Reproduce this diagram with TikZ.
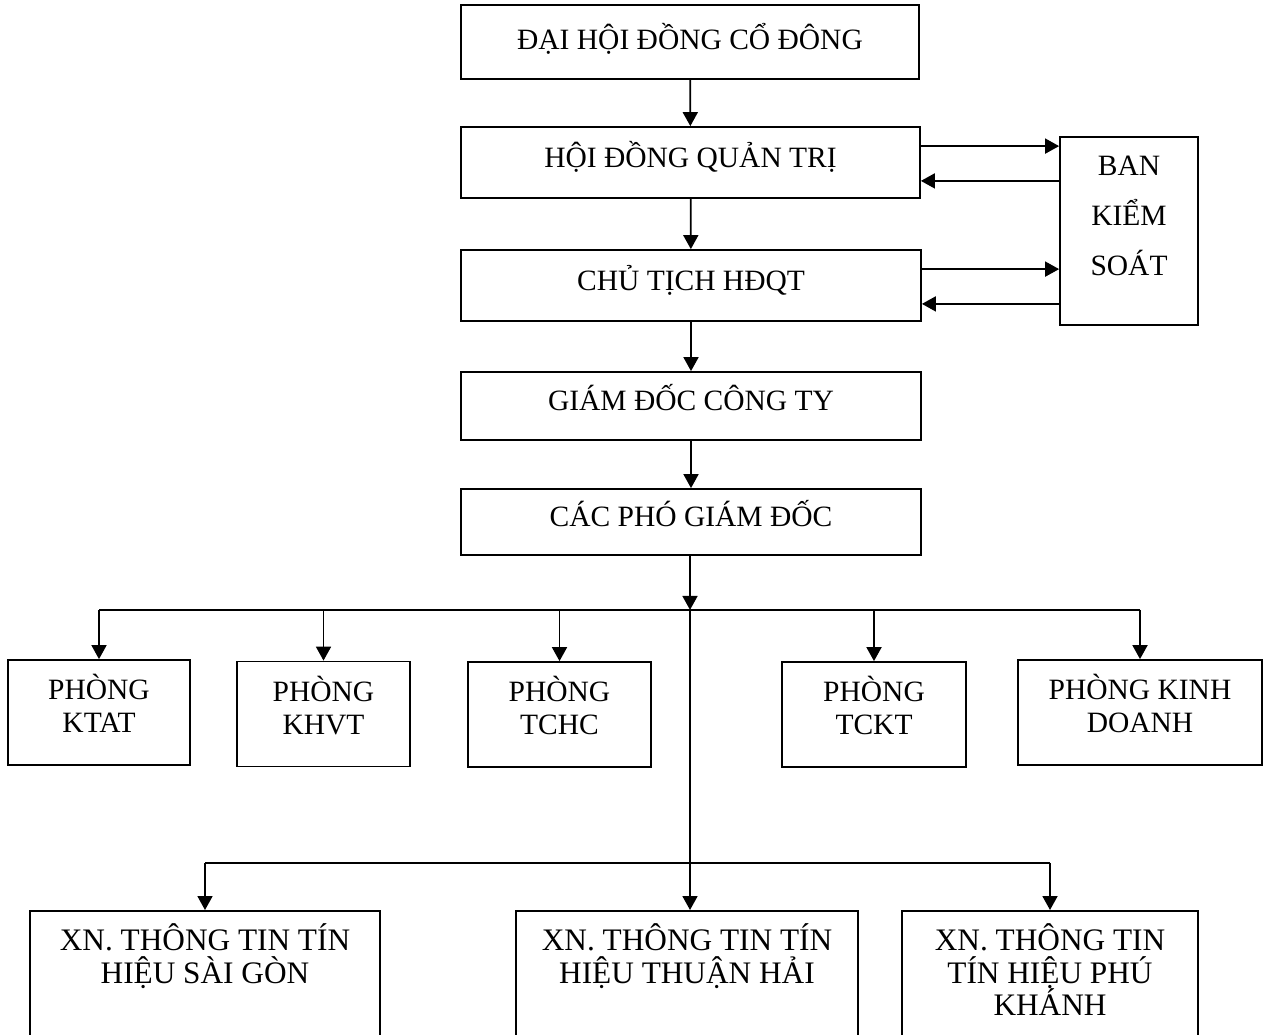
\documentclass[tikz,border=0pt]{standalone}
\usepackage{fontspec}
\setmainfont{Liberation Serif}
\usetikzlibrary{arrows.meta,calc}
\begin{document}
\begin{tikzpicture}[x=1pt,y=1pt,
  lw/.style={line width=1.8pt},
  base/.style={draw, lw, inner sep=0pt, align=center},
  box/.style={base, font=\fontsize{29.5}{33}\selectfont, text height=20pt, text depth=10.5pt},
  dept/.style={base, font=\fontsize{29.5}{33}\selectfont, text height=53pt, text depth=12.5pt, minimum height=105},
  bksbox/.style={base, font=\fontsize{29.5}{50}\selectfont, text height=120pt, text depth=30.5pt},
  xnbox/.style={base, anchor=north, font=\fontsize{31.3}{32.5}\selectfont, text depth=150pt},
  arr/.style={lw, -{Triangle[length=14pt,width=15pt]}}]
\useasboundingbox (0,0) rectangle (1265,-1034);
\clip (0,0) rectangle (1265,-1034);
% main column
\node[box, text depth=4.5pt, minimum width=458, minimum height=74] (n1) at (690,-42) {ĐẠI HỘI ĐỒNG CỔ ĐÔNG};
\node[box, minimum width=459, minimum height=71] (n2) at (690.5,-162.5) {HỘI ĐỒNG QUẢN TRỊ};
\node[box, minimum width=460, minimum height=71] (n3) at (691,-285.5) {CHỦ TỊCH HĐQT};
\node[box, minimum width=460, minimum height=68] (n4) at (691,-406) {GIÁM ĐỐC CÔNG TY};
\node[box, minimum width=460, minimum height=66] (n5) at (691,-522) {CÁC PHÓ GIÁM ĐỐC};
\node[bksbox, minimum width=138, minimum height=188] (bks) at (1129,-231) {BAN\\KIỂM\\SOÁT};
% departments
\node[dept, minimum width=182] (ktat) at (99,-712.5) {PHÒNG\\KTAT};
\node[dept, minimum width=173] (khvt) at (323.5,-714) {PHÒNG\\KHVT};
\node[dept, minimum width=183] (tchc) at (559.5,-714.5) {PHÒNG\\TCHC};
\node[dept, minimum width=184] (tckt) at (874,-714.5) {PHÒNG\\TCKT};
\node[dept, minimum width=244] (kd) at (1140,-712.5) {PHÒNG KINH\\DOANH};
% enterprises
\node[xnbox, minimum width=350, text height=72.5pt] (sg) at (205,-910) {XN. THÔNG TIN TÍN\\HIỆU SÀI GÒN};
\node[xnbox, minimum width=342, text height=72.5pt] (th) at (687,-910) {XN. THÔNG TIN TÍN\\HIỆU THUẬN HẢI};
\node[xnbox, minimum width=296, text height=105pt] (pk) at (1050,-910) {XN. THÔNG TIN\\TÍN HIỆU PHÚ\\KHÁNH};
% vertical chain
\draw[arr] (n1) -- (n2);
\draw[arr] (n2) -- (n3);
\draw[arr] (n3) -- (n4);
\draw[arr] (n4) -- (n5);
% Ban kiem soat links
\coordinate (p1) at ($(n2.north east)+(0,-20)$);
\coordinate (p2) at ($(n2.south east)+(0,18)$);
\coordinate (p3) at ($(n3.north east)+(0,-20)$);
\coordinate (p4) at ($(n3.south east)+(0,18)$);
\draw[arr] (p1) -- (p1 -| bks.west);
\draw[arr] (p2 -| bks.west) -- (p2);
\draw[arr] (p3) -- (p3 -| bks.west);
\draw[arr] (p4 -| bks.west) -- (p4);
% buses
\coordinate (b1) at ($(n5.south)+(-1,-54)$);
\coordinate (b2) at ($(n5.south)+(-1,-307)$);
\draw[arr] (n5.south -| b1) -- (b1);
\draw[lw] (b1 -| ktat) -- (b1 -| kd);
\foreach \d in {ktat,khvt,tchc,tckt,kd} \draw[arr] (b1 -| \d) -- (\d.north);
\draw[arr] (b1) -- (b1 |- th.north);
\draw[lw] (b2 -| sg) -- (b2 -| pk);
\draw[arr] (b2 -| sg) -- (sg.north);
\draw[arr] (b2 -| pk) -- (pk.north);
\end{tikzpicture}
\end{document}
